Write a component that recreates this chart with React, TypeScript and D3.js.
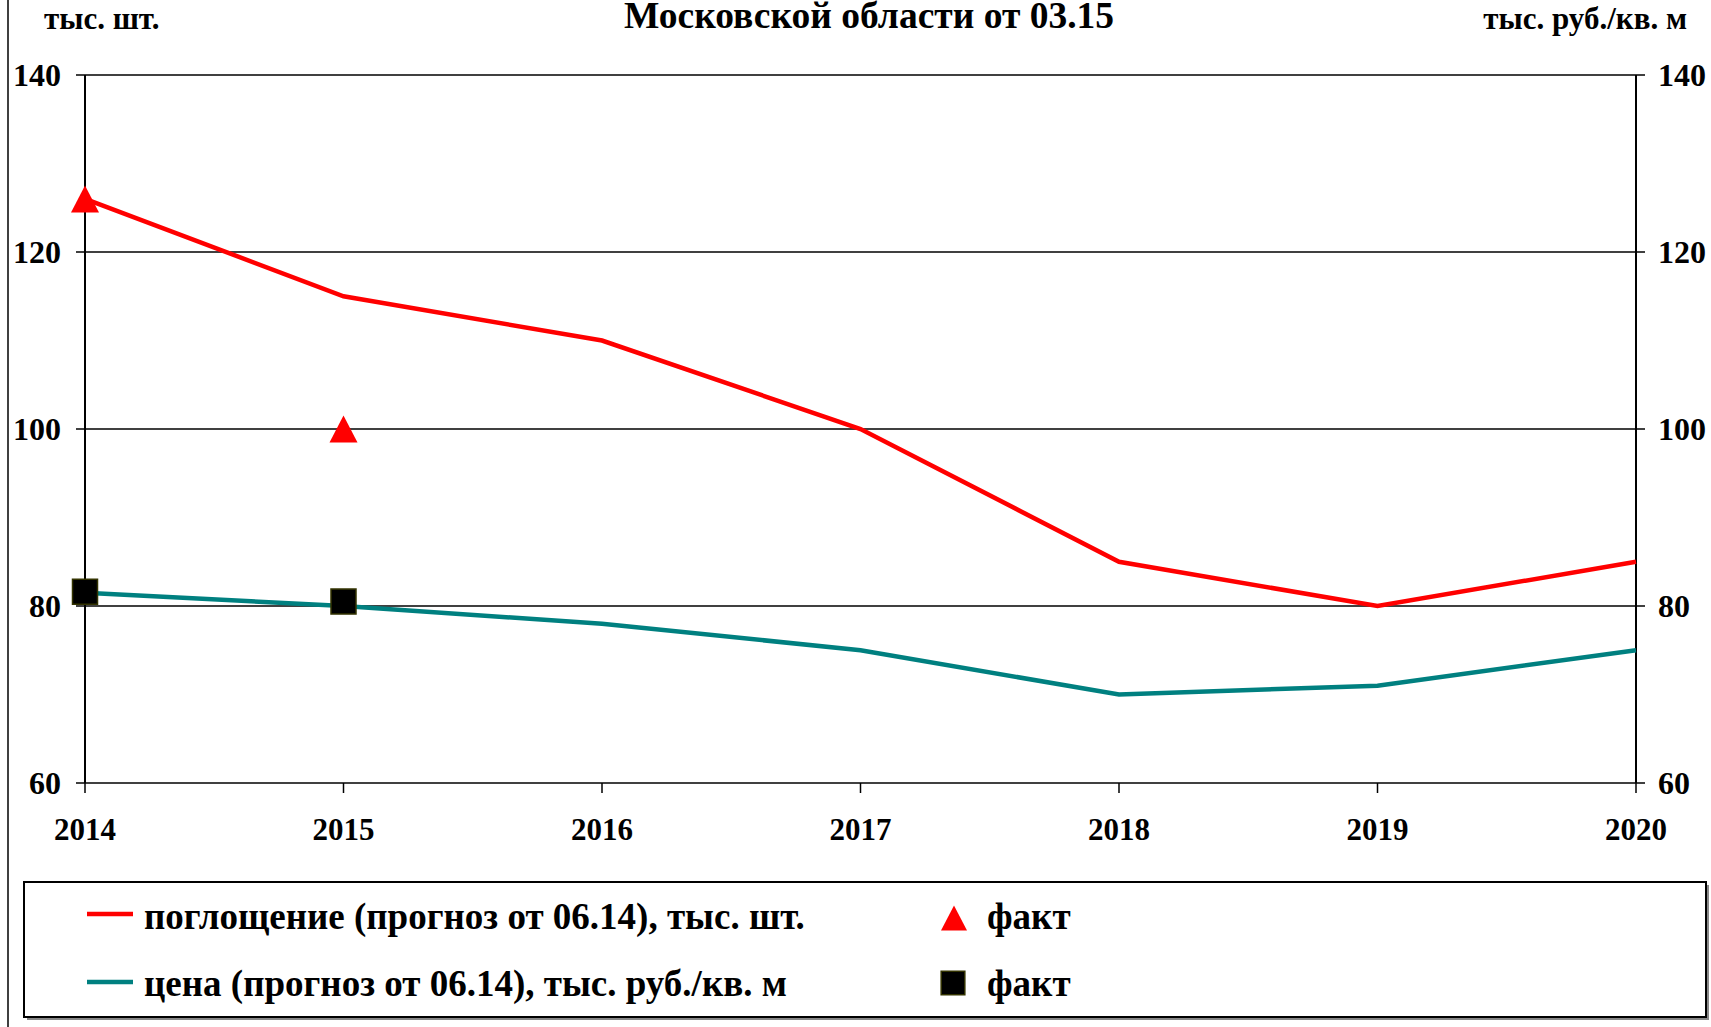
import React from "react";
import * as d3 from "d3";

const years = [2014, 2015, 2016, 2017, 2018, 2019, 2020];
const absorption = [126, 115, 110, 100, 85, 80, 85];
const price = [81.5, 80, 78, 75, 70, 71, 75];
const absorptionFactYears = [2014, 2015];
const absorptionFact = [126, 100];
const priceFactYears = [2014, 2015];
const priceFact = [81.6, 80.5];
const yTicks = [60, 80, 100, 120, 140];

const W = 1711;
const H = 1027;
const font = "'Liberation Serif', 'Times New Roman', serif";

// triangle centred on its bounding box, like the spreadsheet marker
const triPath = (s: number, h: number) =>
  `M0,${-h / 2}L${s / 2},${h / 2}L${-s / 2},${h / 2}Z`;

const App = () => {
  const x = d3.scaleLinear().domain([2014, 2020]).range([85, 1636]);
  const y = d3.scaleLinear().domain([60, 140]).range([783, 75]);

  const line = d3
    .line<number>()
    .x((d, i) => x(years[i]))
    .y((d) => y(d));

  const sq = d3.symbol().type(d3.symbolSquare).size(625)();
  const sqSmall = d3.symbol().type(d3.symbolSquare).size(560)();

  const [x0, x1] = x.range();

  return (
    <svg
      width={W}
      height={H}
      style={{ position: "absolute", left: 0, top: 0, background: "#fff" }}
      fontFamily={font}
      fontWeight="bold"
    >
      {/* outer frame left edge */}
      <line x1={8} x2={8} y1={0} y2={H} stroke="#000" strokeWidth={1.5} />

      {/* titles */}
      <text x={869} y={28} fontSize={37.5} textAnchor="middle">
        Московской области от 03.15
      </text>
      <text x={44} y={29} fontSize={31}>
        тыс. шт.
      </text>
      <text x={1687} y={29} fontSize={31} textAnchor="end">
        тыс. руб./кв. м
      </text>

      {/* grid + y ticks */}
      {yTicks.map((t) => (
        <g key={t}>
          <line x1={x0 - 9} x2={x1 + 9} y1={y(t)} y2={y(t)} stroke="#000" strokeWidth={1.5} />
          <text x={61} y={y(t) + 11} fontSize={32} textAnchor="end">
            {t}
          </text>
          <text x={1658} y={y(t) + 11} fontSize={32}>
            {t}
          </text>
        </g>
      ))}

      {/* axes */}
      <line x1={x0} x2={x0} y1={y(140)} y2={y(60)} stroke="#000" strokeWidth={2} />
      <line x1={x1} x2={x1} y1={y(140)} y2={y(60)} stroke="#000" strokeWidth={2} />

      {/* x ticks */}
      {years.map((yr) => (
        <g key={yr}>
          <line x1={x(yr)} x2={x(yr)} y1={y(60)} y2={y(60) + 10} stroke="#000" strokeWidth={1.5} />
          <text x={x(yr)} y={840} fontSize={31} textAnchor="middle">
            {yr}
          </text>
        </g>
      ))}

      {/* series */}
      <path d={line(price) || ""} fill="none" stroke="#008080" strokeWidth={4.5} />
      <path d={line(absorption) || ""} fill="none" stroke="#ff0000" strokeWidth={4.5} />

      {absorptionFact.map((v, i) => (
        <path
          key={"a" + i}
          d={triPath(28, 27)}
          transform={`translate(${x(absorptionFactYears[i])},${y(v)})`}
          fill="#ff0000"
        />
      ))}
      {priceFact.map((v, i) => (
        <path
          key={"p" + i}
          d={sq || ""}
          transform={`translate(${x(priceFactYears[i])},${y(v)})`}
          fill="#000"
          stroke="#333300"
          strokeWidth={1.5}
        />
      ))}

      {/* legend */}
      <rect x={27} y={885} width={1682} height={135} fill="#888" />
      <rect x={24} y={882} width={1682} height={135} fill="#fff" stroke="#000" strokeWidth={2} />
      <line x1={87} x2={133} y1={914} y2={914} stroke="#ff0000" strokeWidth={4.5} />
      <text x={144} y={929} fontSize={37}>
        поглощение (прогноз от 06.14), тыс. шт.
      </text>
      <path d={triPath(26, 25)} transform="translate(954,918)" fill="#ff0000" />
      <text x={987} y={929} fontSize={37}>
        факт
      </text>
      <line x1={87} x2={133} y1={982} y2={982} stroke="#008080" strokeWidth={4.5} />
      <text x={144} y={996} fontSize={37}>
        цена (прогноз от 06.14), тыс. руб./кв. м
      </text>
      <path
        d={sqSmall || ""}
        transform="translate(953,983)"
        fill="#000"
        stroke="#333300"
        strokeWidth={1.5}
      />
      <text x={987} y={996} fontSize={37}>
        факт
      </text>
    </svg>
  );
};

export default App;
